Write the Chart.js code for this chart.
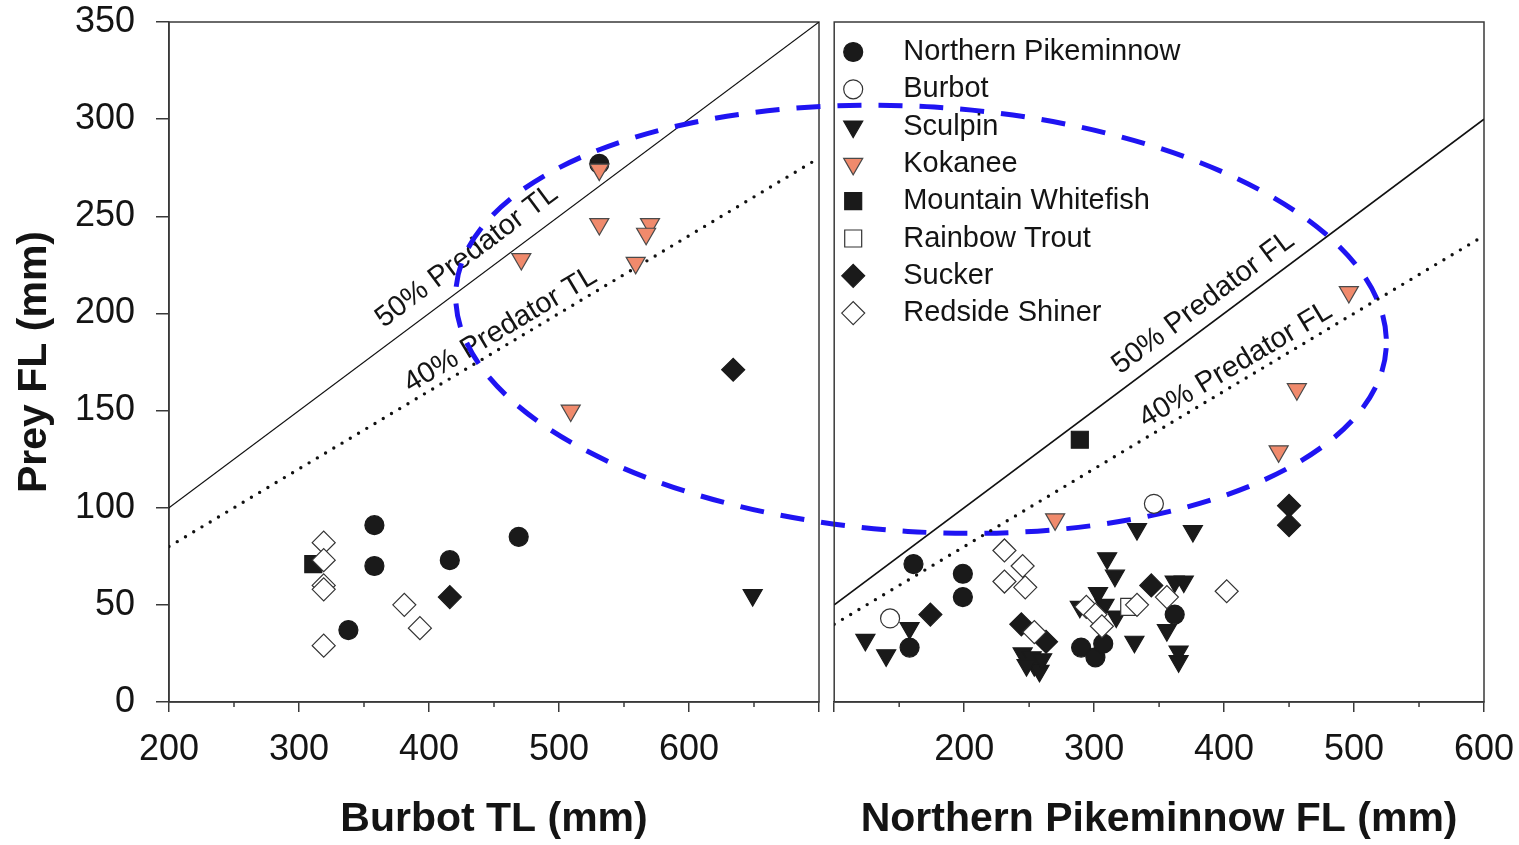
<!DOCTYPE html>
<html>
<head>
<meta charset="utf-8">
<script src="https://cdn.jsdelivr.net/npm/chart.js@4.4.1/dist/chart.umd.min.js"></script>
<style>
  body { margin: 0; background: #fff; }
  #wrap { position: relative; width: 1519px; height: 845px; }
  canvas { position: absolute; top: 0; }
</style>
</head>
<body>
<div id="wrap">
  <canvas id="left" width="1519" height="845" style="left:0"></canvas>
  <canvas id="right" width="698" height="845" style="left:821px"></canvas>
</div>
<script>
const speciesNames = ['Northern Pikeminnow', 'Burbot', 'Sculpin', 'Kokanee',
  'Mountain Whitefish', 'Rainbow Trout', 'Sucker', 'Redside Shiner'];

// left panel: burbot TL (x) vs prey FL (y)
const burbotPikeminnow = [[358, 91], [358, 70], [416, 73], [338, 37], [469, 85], [531, 277]];
const burbotBurbot = [];
const burbotSculpin = [[649, 55]];
const burbotKokanee = [[531, 274], [531, 246], [570, 246], [567, 241], [471, 228], [559, 226], [509, 150]];
const burbotWhitefish = [[311, 71]];
const burbotTrout = [];
const burbotSucker = [[416, 54], [634, 171]];
const burbotShiner = [[319, 82], [319, 73], [319, 60], [319, 58], [319, 29], [381, 50], [393, 38]];

// right panel: pikeminnow FL (x) vs prey FL (y)
const pikePikeminnow = [[161, 71], [199, 66], [199, 54], [158, 28], [362, 45], [290, 28], [301, 23], [307, 30]];
const pikeBurbot = [[143, 43], [346, 102]];
const pikeSculpin = [[124, 32], [140, 24], [158, 38], [333, 89], [376, 88], [310, 74], [316, 65], [362, 62],
  [369, 62], [303, 56], [308, 50], [317, 44], [289, 49], [356, 37], [331, 31], [365, 26], [365, 21],
  [245, 25], [252, 23], [254, 19], [258, 16], [248, 19], [260, 22]];
const pikeKokanee = [[270, 94], [496, 211], [456, 161], [442, 129]];
const pikeWhitefish = [[289, 135]];
const pikeTrout = [[327, 49]];
const pikeSucker = [[174, 45], [244, 40], [263, 31], [344, 60], [450, 101], [450, 91]];
const pikeShiner = [[231, 78], [245, 70], [231, 62], [247, 59], [254, 36], [402, 57], [356, 54],
  [333, 50], [294, 49], [301, 45], [306, 39]];

// predator size lines (prey = 50% and 40% of predator length)
const burbotLine50 = [[200, 100], [700, 350]];
const burbotLine40 = [[200, 80], [700, 280]];
const pikeLine50 = [[100, 50], [600, 300]];
const pikeLine40 = [[100, 40], [600, 240]];

const burbotXTicks = [200, 300, 400, 500, 600];
const pikeXTicks = [200, 300, 400, 500, 600];

const LINE = '#3a3a3a';
const INK = '#141414';
const FONT = '"Liberation Sans", Arial, sans-serif';

const markers = [
  { style: 'circle', fill: '#1a1a1a', stroke: '#1a1a1a', r: 9.5 },
  { style: 'circle', fill: '#ffffff', stroke: '#333333', r: 9.5 },
  { style: 'triangle', rot: 180, fill: '#1a1a1a', stroke: '#1a1a1a', r: 11 },
  { style: 'triangle', rot: 180, fill: '#f08a6c', stroke: '#4a4a4a', r: 11 },
  { style: 'rect', fill: '#1a1a1a', stroke: '#1a1a1a', r: 12 },
  { style: 'rect', fill: '#ffffff', stroke: '#333333', r: 12 },
  { style: 'rectRot', fill: '#1a1a1a', stroke: '#1a1a1a', r: 11.5 },
  { style: 'rectRot', fill: '#ffffff', stroke: '#333333', r: 11.5 }
];

function speciesSets(lists) {
  return lists.map((pts, i) => ({
    label: speciesNames[i],
    data: pts.map(p => ({ x: p[0], y: p[1] })),
    pointStyle: markers[i].style,
    pointRotation: markers[i].rot || 0,
    pointRadius: markers[i].r,
    pointHoverRadius: markers[i].r,
    pointBackgroundColor: markers[i].fill,
    pointBorderColor: markers[i].stroke,
    pointBorderWidth: 1.2,
    showLine: false,
    clip: false,
    order: 20 - i
  }));
}

function lineSet(pts, dotted, width) {
  return {
    data: pts.map(p => ({ x: p[0], y: p[1] })),
    showLine: true,
    pointRadius: 0,
    borderColor: '#111',
    borderWidth: dotted ? 3.4 : width,
    borderDash: dotted ? [0, 9.6] : [],
    borderCapStyle: dotted ? 'round' : 'butt',
    order: 100
  };
}

// text along the predator lines: [text, x, y] in data units
const burbotLabels = [['50% Predator TL', 429, 229.5, burbotLine50], ['40% Predator TL', 455, 191.5, burbotLine40]];
const pikeLabels = [['50% Predator FL', 384, 205.5, pikeLine50], ['40% Predator FL', 409, 173.5, pikeLine40]];

const framePlugin = {
  id: 'frame',
  beforeDatasetsDraw(chart) {
    const { ctx, chartArea: a, scales } = chart;
    ctx.save();
    ctx.strokeStyle = LINE;
    ctx.lineWidth = 1.5;
    ctx.strokeRect(a.left, a.top, a.right - a.left, a.bottom - a.top);
    // minor ticks every 50 on x
    const sx = scales.x;
    ctx.beginPath();
    for (let v = sx.min + 50; v < sx.max; v += 100) {
      const px = sx.getPixelForValue(v);
      ctx.moveTo(px, a.bottom);
      ctx.lineTo(px, a.bottom + 5);
    }
    ctx.stroke();
    ctx.restore();
  }
};

const labelPlugin = {
  id: 'lineLabels',
  afterDatasetsDraw(chart, args, opts) {
    const { ctx, scales } = chart;
    ctx.save();
    ctx.fillStyle = INK;
    ctx.font = '29px ' + FONT;
    ctx.textAlign = 'center';
    ctx.textBaseline = 'middle';
    opts.items.forEach(([text, x, y, line]) => {
      const x0 = scales.x.getPixelForValue(line[0][0]), y0 = scales.y.getPixelForValue(line[0][1]);
      const x1 = scales.x.getPixelForValue(line[1][0]), y1 = scales.y.getPixelForValue(line[1][1]);
      ctx.save();
      ctx.translate(scales.x.getPixelForValue(x), scales.y.getPixelForValue(y));
      ctx.rotate(Math.atan2(y1 - y0, x1 - x0));
      ctx.fillText(text, 0, 0);
      ctx.restore();
    });
    ctx.restore();
  }
};

// dashed ellipse drawn with the left panel's scales (it reaches into the right panel)
const ellipse = { cx: 778.5, cy: 197, rx: 358.5, ry: 109.4, tilt: 3.55 };
const ellipsePlugin = {
  id: 'ellipse',
  afterDatasetsDraw(chart) {
    const { ctx, scales } = chart;
    const cx = scales.x.getPixelForValue(ellipse.cx), cy = scales.y.getPixelForValue(ellipse.cy);
    const a = scales.x.getPixelForValue(ellipse.cx + ellipse.rx) - cx;
    const b = cy - scales.y.getPixelForValue(ellipse.cy + ellipse.ry);
    ctx.save();
    ctx.translate(cx, cy);
    ctx.rotate(ellipse.tilt * Math.PI / 180);
    ctx.beginPath();
    ctx.ellipse(0, 0, a, b, 0, 0, Math.PI * 2);
    ctx.setLineDash([24, 17]);
    ctx.lineWidth = 5;
    ctx.strokeStyle = '#1f14f2';
    ctx.stroke();
    ctx.restore();
  }
};

const legendPlugin = {
  id: 'sideLegend',
  afterDatasetsDraw(chart) {
    const { ctx, chartArea: a } = chart;
    ctx.save();
    ctx.font = '29px ' + FONT;
    ctx.textBaseline = 'middle';
    speciesNames.forEach((name, i) => {
      const m = markers[i];
      const y = a.top + 30 + i * 37.3;
      ctx.fillStyle = m.fill;
      ctx.strokeStyle = m.stroke;
      ctx.lineWidth = 1.2;
      Chart.helpers.drawPoint(ctx, { pointStyle: m.style, rotation: m.rot || 0, radius: m.r, borderWidth: 1.2 }, a.left + 19, y);
      ctx.fillStyle = INK;
      ctx.fillText(name, a.left + 69, y);
    });
    ctx.restore();
  }
};

function noOverflow(s) {
  s.paddingLeft = 0; s.paddingRight = 0; s.paddingTop = 0; s.paddingBottom = 0;
}

function xAxis(min, max, labels, title) {
  return {
    type: 'linear', min, max, position: 'bottom',
    border: { color: LINE, width: 1.5 },
    grid: { drawOnChartArea: false, tickLength: 10, color: LINE, lineWidth: 1.5 },
    ticks: {
      stepSize: 100, autoSkip: false, maxRotation: 0, padding: 16, color: INK,
      font: { family: FONT, size: 36 },
      callback: v => labels.includes(v) ? String(v) : ''
    },
    title: { display: true, text: title, color: INK, padding: { top: 0, bottom: 1 },
      font: { family: FONT, size: 41, weight: 'bold' } },
    afterFit: s => { s.height = 143; noOverflow(s); }
  };
}

const common = {
  responsive: false,
  animation: false,
  events: [],
  plugins: { legend: { display: false }, tooltip: { enabled: false } }
};

new Chart(document.getElementById('left'), {
  type: 'scatter',
  data: {
    datasets: [
      ...speciesSets([burbotPikeminnow, burbotBurbot, burbotSculpin, burbotKokanee,
        burbotWhitefish, burbotTrout, burbotSucker, burbotShiner]),
      lineSet(burbotLine50, false, 1.1),
      lineSet(burbotLine40, true)
    ]
  },
  options: {
    ...common,
    layout: { padding: { top: 22, right: 700, bottom: 0, left: 0 } },
    plugins: { ...common.plugins, lineLabels: { items: burbotLabels } },
    scales: {
      x: xAxis(200, 700, burbotXTicks, 'Burbot TL (mm)'),
      y: {
        type: 'linear', min: 0, max: 350,
        border: { color: LINE, width: 1.5 },
        grid: { drawOnChartArea: false, tickLength: 13, color: LINE, lineWidth: 1.5 },
        ticks: { stepSize: 50, padding: 21, color: INK, font: { family: FONT, size: 36 } },
        title: { display: true, text: 'Prey FL (mm)', color: INK, padding: { top: 10, bottom: 0 },
          font: { family: FONT, size: 41, weight: 'bold' } },
        afterFit: s => { s.width = 169; noOverflow(s); }
      }
    }
  },
  plugins: [framePlugin, labelPlugin, ellipsePlugin]
});

new Chart(document.getElementById('right'), {
  type: 'scatter',
  data: {
    datasets: [
      ...speciesSets([pikePikeminnow, pikeBurbot, pikeSculpin, pikeKokanee,
        pikeWhitefish, pikeTrout, pikeSucker, pikeShiner]),
      lineSet(pikeLine50, false, 1.8),
      lineSet(pikeLine40, true)
    ]
  },
  options: {
    ...common,
    layout: { padding: { top: 22, right: 35, bottom: 0, left: 0 } },
    plugins: { ...common.plugins, lineLabels: { items: pikeLabels } },
    scales: {
      x: xAxis(100, 600, pikeXTicks, 'Northern Pikeminnow FL (mm)'),
      y: {
        type: 'linear', min: 0, max: 350,
        border: { display: false },
        grid: { display: false, drawTicks: false },
        ticks: { display: false },
        afterFit: s => { s.width = 7; noOverflow(s); }
      }
    }
  },
  plugins: [framePlugin, labelPlugin, legendPlugin]
});
</script>
</body>
</html>
